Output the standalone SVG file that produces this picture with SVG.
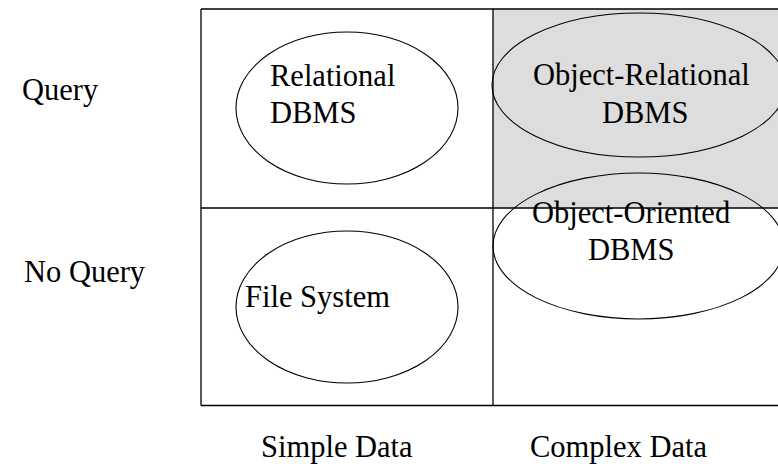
<svg xmlns="http://www.w3.org/2000/svg" width="778" height="467" viewBox="0 0 778 467">
  <style>
    .grid { stroke: #000; stroke-width: 1.3; fill: none; }
    .oval { stroke: #000; stroke-width: 1.1; fill: none; }
    .lbl { font-family: "Liberation Serif", "Times New Roman", serif; font-size: 30.5px; fill: #000; }
  </style>

  <!-- shaded quadrant: complex data with query support -->
  <rect x="493" y="9" width="290" height="199" fill="#dddddd"/>

  <!-- quadrant grid -->
  <g id="grid">
    <line class="grid" x1="201" y1="9" x2="778" y2="9"/>
    <line class="grid" x1="201" y1="208" x2="778" y2="208"/>
    <line class="grid" x1="201" y1="405.5" x2="778" y2="405.5"/>
    <line class="grid" x1="201" y1="9" x2="201" y2="405.5"/>
    <line class="grid" x1="493" y1="9" x2="493" y2="405.5"/>
  </g>

  <!-- axis labels -->
  <g id="axis-labels">
    <text class="lbl" x="22" y="100">Query</text>
    <text class="lbl" x="24" y="282">No Query</text>
    <text class="lbl" x="261" y="457">Simple Data</text>
    <text class="lbl" x="530" y="457">Complex Data</text>
  </g>

  <g id="relational-dbms">
    <ellipse class="oval" cx="347" cy="108" rx="111" ry="76"/>
    <text class="lbl" x="270" y="86">Relational</text>
    <text class="lbl" x="270" y="123">DBMS</text>
  </g>

  <g id="object-relational-dbms">
    <ellipse class="oval" cx="639" cy="85" rx="147" ry="72"/>
    <text class="lbl" x="533" y="85">Object-Relational</text>
    <text class="lbl" x="602" y="123">DBMS</text>
  </g>

  <g id="object-oriented-dbms">
    <ellipse class="oval" cx="638.5" cy="246" rx="145.5" ry="73"/>
    <text class="lbl" x="532" y="223">Object-Oriented</text>
    <text class="lbl" x="588" y="260">DBMS</text>
  </g>

  <g id="file-system">
    <ellipse class="oval" cx="347" cy="307" rx="111" ry="76"/>
    <text class="lbl" x="245" y="307">File System</text>
  </g>
</svg>
